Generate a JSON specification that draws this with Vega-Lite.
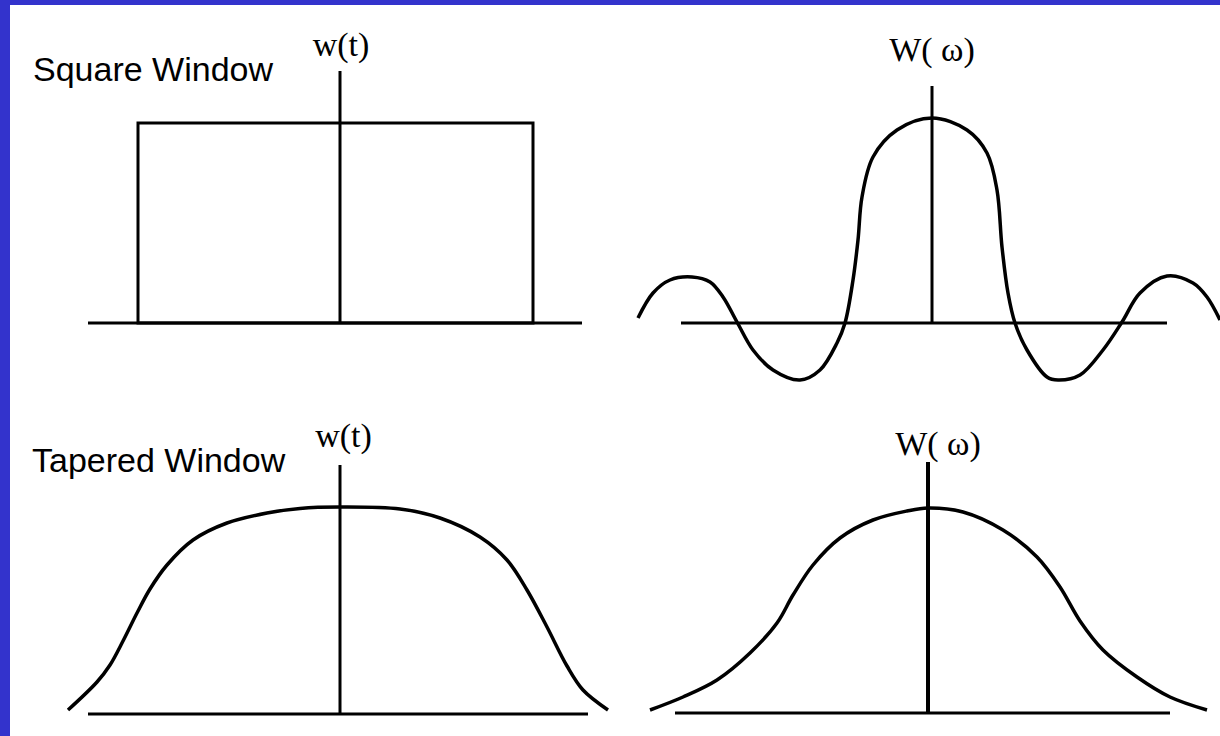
{
  "$schema": "https://vega.github.io/schema/vega-lite/v6.json",
  "background": "#3333cc",
  "padding": {"left": 10, "top": 5, "right": 0, "bottom": 0},
  "config": {"view": {"stroke": null, "fill": "white"}, "concat": {"spacing": 0}},
  "spacing": 0,
  "vconcat": [
    {
      "spacing": 0,
      "hconcat": [
        {
          "width": 610, "height": 395,
          "encoding": {
            "x": {"field": "x", "type": "quantitative", "scale": {"domain": [-1.65, 1.4], "nice": false, "zero": false}, "axis": null},
            "y": {"field": "y", "type": "quantitative", "scale": {"domain": [-0.385, 1.59], "nice": false, "zero": false}, "axis": null}
          },
          "layer": [
            {"data": {"values": [{"x": -1.26, "x2": 1.21, "y": 0}]}, "mark": {"type": "rule", "color": "black", "strokeWidth": 3}, "encoding": {"x2": {"field": "x2"}}},
            {"data": {"values": [{"x": 0, "y": 0, "y2": 1.26}]}, "mark": {"type": "rule", "color": "black", "strokeWidth": 3}, "encoding": {"y2": {"field": "y2"}}},
            {"data": {"values": [{"x": -1.01, "x2": 0.965, "y": 0, "y2": 1}]}, "mark": {"type": "rect", "filled": false, "stroke": "black", "strokeWidth": 3}, "encoding": {"x2": {"field": "x2"}, "y2": {"field": "y2"}}},
            {"data": {"values": [{"x": -1.535, "y": 1.21, "label": "Square Window"}]}, "mark": {"type": "text", "align": "left", "baseline": "alphabetic", "font": "Liberation Sans", "fontSize": 34, "color": "black"}, "encoding": {"text": {"field": "label"}}},
            {"data": {"values": [{"x": 0.005, "y": 1.335, "label": "w(t)"}]}, "mark": {"type": "text", "align": "center", "baseline": "alphabetic", "font": "Liberation Serif", "fontSize": 34, "color": "black"}, "encoding": {"text": {"field": "label"}}}
          ]
        },
        {
          "width": 600, "height": 395,
          "encoding": {
            "x": {"field": "x", "type": "quantitative", "scale": {"domain": [-1.56, 1.44], "nice": false, "zero": false}, "axis": null},
            "y": {"field": "y", "type": "quantitative", "scale": {"domain": [-0.385, 1.59], "nice": false, "zero": false}, "axis": null}
          },
          "layer": [
            {"data": {"values": [{"x": -1.255, "x2": 1.175, "y": 0}]}, "mark": {"type": "rule", "color": "black", "strokeWidth": 3}, "encoding": {"x2": {"field": "x2"}}},
            {"data": {"values": [{"x": 0, "y": 0, "y2": 1.185}]}, "mark": {"type": "rule", "color": "black", "strokeWidth": 3}, "encoding": {"y2": {"field": "y2"}}},
            {"data": {"values": [
              {"x": -1.47, "y": 0.025}, {"x": -1.395, "y": 0.15}, {"x": -1.31, "y": 0.215}, {"x": -1.2, "y": 0.23},
              {"x": -1.11, "y": 0.205}, {"x": -1.045, "y": 0.13}, {"x": -0.975, "y": 0.005}, {"x": -0.895, "y": -0.135},
              {"x": -0.795, "y": -0.235}, {"x": -0.66, "y": -0.285}, {"x": -0.56, "y": -0.235}, {"x": -0.475, "y": -0.1},
              {"x": -0.435, "y": 0}, {"x": -0.395, "y": 0.215}, {"x": -0.37, "y": 0.415}, {"x": -0.35, "y": 0.63},
              {"x": -0.295, "y": 0.83}, {"x": -0.175, "y": 0.965}, {"x": 0, "y": 1.025}, {"x": 0.175, "y": 0.965},
              {"x": 0.275, "y": 0.85}, {"x": 0.325, "y": 0.665}, {"x": 0.35, "y": 0.38}, {"x": 0.38, "y": 0.15},
              {"x": 0.415, "y": 0}, {"x": 0.475, "y": -0.135}, {"x": 0.575, "y": -0.27}, {"x": 0.63, "y": -0.285},
              {"x": 0.74, "y": -0.26}, {"x": 0.855, "y": -0.135}, {"x": 0.95, "y": 0.005}, {"x": 1.04, "y": 0.15},
              {"x": 1.175, "y": 0.235}, {"x": 1.305, "y": 0.2}, {"x": 1.375, "y": 0.13}, {"x": 1.44, "y": 0.015}
            ]}, "mark": {"type": "line", "interpolate": "catmull-rom", "color": "black", "strokeWidth": 3.5}},
            {"data": {"values": [{"x": 0, "y": 1.31, "label": "W( ω)"}]}, "mark": {"type": "text", "align": "center", "baseline": "alphabetic", "font": "Liberation Serif", "fontSize": 34, "color": "black"}, "encoding": {"text": {"field": "label"}}}
          ]
        }
      ]
    },
    {
      "spacing": 0,
      "hconcat": [
        {
          "width": 610, "height": 336,
          "encoding": {
            "x": {"field": "x", "type": "quantitative", "scale": {"domain": [-1.65, 1.4], "nice": false, "zero": false}, "axis": null},
            "y": {"field": "y", "type": "quantitative", "scale": {"domain": [-0.11, 1.57], "nice": false, "zero": false}, "axis": null}
          },
          "layer": [
            {"data": {"values": [{"x": -1.26, "x2": 1.24, "y": 0}]}, "mark": {"type": "rule", "color": "black", "strokeWidth": 3}, "encoding": {"x2": {"field": "x2"}}},
            {"data": {"values": [{"x": 0, "y": 0, "y2": 1.245}]}, "mark": {"type": "rule", "color": "black", "strokeWidth": 3}, "encoding": {"y2": {"field": "y2"}}},
            {"data": {"values": [
              {"x": -1.36, "y": 0.02}, {"x": -1.215, "y": 0.16}, {"x": -1.15, "y": 0.245}, {"x": -1.085, "y": 0.365},
              {"x": -1.015, "y": 0.505}, {"x": -0.95, "y": 0.625}, {"x": -0.865, "y": 0.745}, {"x": -0.735, "y": 0.87},
              {"x": -0.565, "y": 0.955}, {"x": -0.365, "y": 1.005}, {"x": -0.2, "y": 1.028}, {"x": 0, "y": 1.035},
              {"x": 0.3, "y": 1.025}, {"x": 0.5, "y": 0.98}, {"x": 0.7, "y": 0.885}, {"x": 0.835, "y": 0.77},
              {"x": 0.935, "y": 0.62}, {"x": 1.035, "y": 0.435}, {"x": 1.135, "y": 0.24}, {"x": 1.215, "y": 0.12},
              {"x": 1.34, "y": 0.02}
            ]}, "mark": {"type": "line", "interpolate": "catmull-rom", "color": "black", "strokeWidth": 3.5}},
            {"data": {"values": [{"x": -1.54, "y": 1.21, "label": "Tapered Window"}]}, "mark": {"type": "text", "align": "left", "baseline": "alphabetic", "font": "Liberation Sans", "fontSize": 34, "color": "black"}, "encoding": {"text": {"field": "label"}}},
            {"data": {"values": [{"x": 0.0175, "y": 1.335, "label": "w(t)"}]}, "mark": {"type": "text", "align": "center", "baseline": "alphabetic", "font": "Liberation Serif", "fontSize": 34, "color": "black"}, "encoding": {"text": {"field": "label"}}}
          ]
        },
        {
          "width": 600, "height": 336,
          "encoding": {
            "x": {"field": "x", "type": "quantitative", "scale": {"domain": [-1.54, 1.46], "nice": false, "zero": false}, "axis": null},
            "y": {"field": "y", "type": "quantitative", "scale": {"domain": [-0.115, 1.565], "nice": false, "zero": false}, "axis": null}
          },
          "layer": [
            {"data": {"values": [{"x": -1.265, "x2": 1.21, "y": 0}]}, "mark": {"type": "rule", "color": "black", "strokeWidth": 3}, "encoding": {"x2": {"field": "x2"}}},
            {"data": {"values": [{"x": 0, "y": 0, "y2": 1.255}]}, "mark": {"type": "rule", "color": "black", "strokeWidth": 4}, "encoding": {"y2": {"field": "y2"}}},
            {"data": {"values": [
              {"x": -1.39, "y": 0.015}, {"x": -1.225, "y": 0.08}, {"x": -1.055, "y": 0.165}, {"x": -0.89, "y": 0.3},
              {"x": -0.755, "y": 0.45}, {"x": -0.675, "y": 0.59}, {"x": -0.575, "y": 0.74}, {"x": -0.44, "y": 0.875},
              {"x": -0.275, "y": 0.965}, {"x": -0.105, "y": 1.01}, {"x": 0, "y": 1.025}, {"x": 0.175, "y": 1.005},
              {"x": 0.375, "y": 0.915}, {"x": 0.545, "y": 0.78}, {"x": 0.66, "y": 0.63}, {"x": 0.76, "y": 0.46},
              {"x": 0.875, "y": 0.315}, {"x": 1.045, "y": 0.18}, {"x": 1.21, "y": 0.08}, {"x": 1.395, "y": 0.015}
            ]}, "mark": {"type": "line", "interpolate": "catmull-rom", "color": "black", "strokeWidth": 3.5}},
            {"data": {"values": [{"x": 0.05, "y": 1.29, "label": "W( ω)"}]}, "mark": {"type": "text", "align": "center", "baseline": "alphabetic", "font": "Liberation Serif", "fontSize": 34, "color": "black"}, "encoding": {"text": {"field": "label"}}}
          ]
        }
      ]
    }
  ]
}
